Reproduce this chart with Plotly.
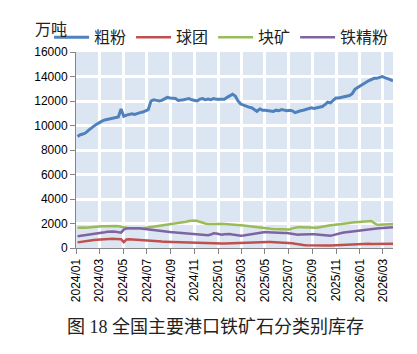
import plotly.graph_objects as go
import pandas as pd

# weekly dates
dates = pd.date_range("2024-01-05", "2026-03-27", freq="7D")

coarse = [9100, 9250, 9300, 9400,
          9600, 9800, 9950, 10100,
          10250, 10350, 10450, 10500, 10550,
          10600, 10650, 10700, 11350,
          10750, 10850, 10900, 10950, 10900,
          11000, 11050, 11100, 11200,
          11300, 12000, 12100, 12050,
          12000, 12050, 12150, 12300, 12250,
          12250, 12200, 12050, 12050,
          12100, 12150, 12200, 12100,
          12050, 12000, 12150, 12200, 12100,
          12150, 12100, 12200, 12150,
          12150, 12100, 12150, 12300, 12450,
          12550, 12400, 12000, 11750,
          11650, 11600, 11500, 11450,
          11300, 11150, 11350, 11250,
          11250, 11200, 11150, 11150, 11250,
          11200, 11300, 11250, 11200,
          11250, 11200, 11050, 11150,
          11200, 11250, 11300, 11350, 11450,
          11400, 11450, 11500, 11550,
          11700, 11900, 11850, 12050, 12250,
          12250, 12300, 12300, 12350,
          12450, 12600, 12950, 13100,
          13250, 13350, 13500, 13650, 13750,
          13850, 13850, 13950, 14000,
          13900, 13850, 13750, 13650]

pellet = [460, 500, 540, 570,
          600, 630, 650, 670,
          690, 710, 730, 750, 760,
          750, 740, 730, 720,
          480, 700, 720, 700, 680,
          660, 640, 630, 620,
          600, 580, 560, 550,
          540, 530, 520, 510, 500,
          490, 480, 470, 460,
          450, 440, 430, 420,
          410, 400, 390, 380, 370,
          360, 350, 350, 340,
          350, 360, 370, 380, 390,
          400, 410, 420, 420,
          430, 450, 470, 480,
          500, 510, 520, 520,
          510, 500, 490, 480, 470,
          460, 450, 430, 420,
          400, 380, 340, 290,
          260, 240, 230, 220, 210,
          200, 200, 190, 190,
          190, 200, 200, 210, 230,
          240, 260, 280, 300,
          320, 330, 340, 350,
          350, 360, 350, 340, 330,
          330, 340, 350, 350,
          350, 350, 360, 350]

lump = [1650, 1680, 1670, 1650,
        1680, 1700, 1720, 1730,
        1750, 1770, 1780, 1800, 1790,
        1780, 1800, 1770, 1750,
        1700, 1650, 1620, 1600, 1580,
        1580, 1600, 1620, 1650,
        1700, 1750, 1780, 1800,
        1820, 1850, 1880, 1920, 1950,
        1980, 2000, 2020, 2050,
        2100, 2150, 2200, 2250,
        2250, 2200, 2120, 2050, 2000,
        1960, 1950, 1960, 1970,
        1960, 1980, 1970, 1950, 1940,
        1920, 1900, 1880, 1860,
        1830, 1800, 1780, 1760,
        1720, 1680, 1640, 1620,
        1600, 1590, 1580, 1560, 1550,
        1540, 1520, 1500, 1490,
        1520, 1600, 1680, 1700,
        1690, 1680, 1670, 1650, 1620,
        1620, 1650, 1700, 1750,
        1780, 1820, 1850, 1880, 1900,
        1940, 1970, 2000, 2030,
        2050, 2080, 2100, 2130,
        2160, 2190, 2220, 2240, 2200,
        2050, 1920, 1900, 1920,
        1940, 1950, 1960, 1950]

concentrate = [950, 980, 1000, 1020,
               1050, 1080, 1120, 1160,
               1200, 1230, 1280, 1320, 1350,
               1340, 1320, 1300, 1250,
               1500, 1600, 1620, 1630, 1620,
               1620, 1610, 1580, 1550,
               1500, 1450, 1430, 1400,
               1380, 1350, 1320, 1300, 1300,
               1280, 1260, 1240, 1220,
               1200, 1180, 1170, 1150,
               1140, 1130, 1120, 1060, 1030,
               1050, 1100, 1200, 1180,
               1100, 1080, 1120, 1140, 1150,
               1100, 1050, 1020, 1000,
               1020, 1060, 1100, 1140,
               1180, 1220, 1250, 1280,
               1300, 1290, 1270, 1250, 1220,
               1220, 1210, 1220, 1220,
               1180, 1130, 1090, 1080,
               1100, 1120, 1140, 1140, 1130,
               1120, 1100, 1090, 1080,
               1060, 1020, 1000, 1050, 1120,
               1200, 1230, 1260, 1290,
               1320, 1350, 1400, 1450,
               1480, 1510, 1540, 1560, 1580,
               1590, 1600, 1620, 1630,
               1650, 1680, 1700, 1700]

series_names = ["粗粉", "球团", "块矿", "铁精粉"]
series_values = [coarse, pellet, lump, concentrate]
colors = ["#4F81BD", "#C0504D", "#9BBB59", "#8064A2"]
widths = [3, 2.5, 2.5, 2.5]

fig = go.Figure()
for name, vals, c, w in zip(series_names, series_values, colors, widths):
    fig.add_trace(go.Scatter(x=dates, y=vals, mode="lines", name=name,
                             line=dict(color=c, width=w)))

cjk = "Noto Sans CJK SC"
fig.update_layout(
    width=417, height=354,
    margin=dict(l=76, r=24, t=52, b=106),
    paper_bgcolor="white",
    plot_bgcolor="#DCE6F2",
    showlegend=True,
    legend=dict(orientation="h", x=-0.085, xanchor="left", y=1.075, yanchor="middle",
                font=dict(family=cjk, size=16, color="#222"),
                bgcolor="rgba(0,0,0,0)", itemwidth=35,
                tracegroupgap=0),
    annotations=[
        dict(text="万吨", x=-0.078, y=1.12, xref="paper", yref="paper",
             xanchor="center", yanchor="middle", showarrow=False,
             font=dict(family=cjk, size=16, color="#222")),
        dict(text="图 18 全国主要港口铁矿石分类别库存", x=0.44, y=-0.405,
             xref="paper", yref="paper", xanchor="center", yanchor="middle",
             showarrow=False,
             font=dict(family="Liberation Serif, " + cjk, size=18, color="#222")),
    ],
)
fig.update_xaxes(
    type="date", range=["2024-01-01", "2026-03-27"],
    tick0="2024-01-01", dtick="M2", tickformat="%Y/%m", tickangle=-90,
    showgrid=True, gridcolor="white", gridwidth=3,
    showline=True, linecolor="#868686", linewidth=1,
    ticks="outside", ticklen=5, tickcolor="#868686",
    tickfont=dict(family="Liberation Sans", size=12, color="#000"),
    zeroline=False,
)
fig.update_yaxes(
    range=[0, 16000], dtick=2000, tickformat="d",
    showgrid=True, gridcolor="white", gridwidth=3,
    showline=True, linecolor="#868686", linewidth=1,
    ticks="outside", ticklen=5, tickcolor="#868686",
    tickfont=dict(family="Liberation Sans", size=12, color="#000"),
    zeroline=False,
)

fig.write_html("out.html")
